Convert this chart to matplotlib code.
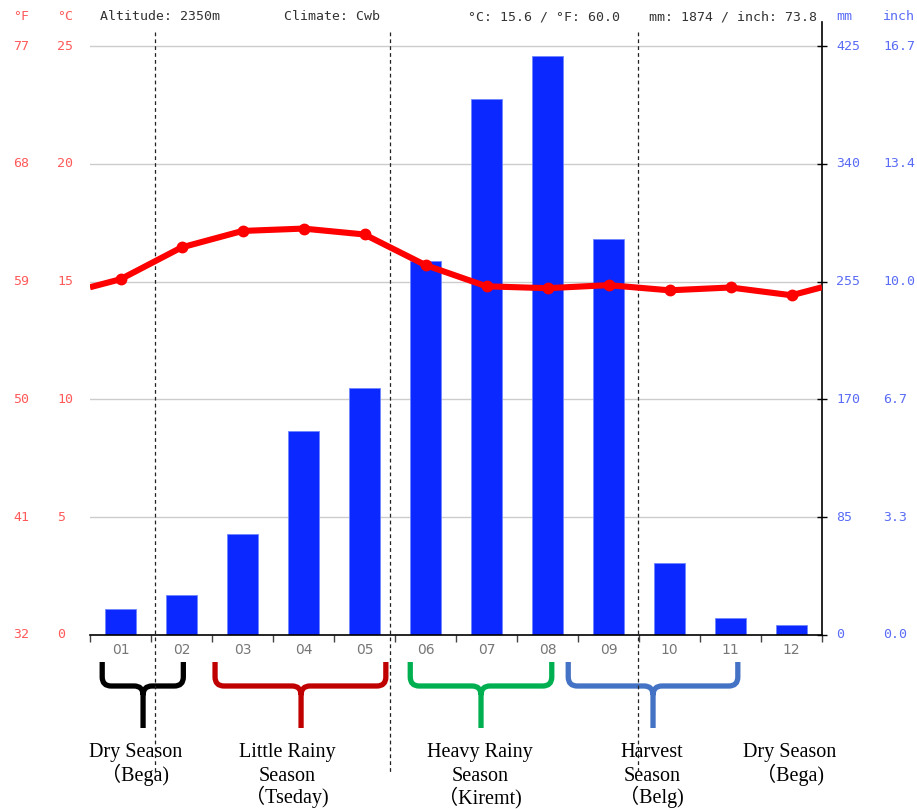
import matplotlib
matplotlib.use('Agg')
import matplotlib.pyplot as plt
import matplotlib.transforms as mtransforms
from matplotlib.path import Path
from matplotlib.patches import PathPatch

# ---------------- data ----------------
months = ['01', '02', '03', '04', '05', '06', '07', '08', '09', '10', '11', '12']
temp_c = [15.1, 16.45, 17.15, 17.25, 17.0, 15.7, 14.8, 14.72, 14.85, 14.63, 14.75, 14.42]
precip_mm = [19, 29, 73, 147, 178, 270, 387, 418, 286, 52, 12, 7]

temp_ticks_c = [0, 5, 10, 15, 20, 25]
temp_ticks_f = ['32', '41', '50', '59', '68', '77']
precip_ticks_mm = [0, 85, 170, 255, 340, 425]
precip_ticks_in = ['0.0', '3.3', '6.7', '10.0', '13.4', '16.7']

header_altitude = 'Altitude: 2350m'
header_climate = 'Climate: Cwb'
header_temp = '°C: 15.6 / °F: 60.0'
header_precip = 'mm: 1874 / inch: 73.8'

season_dividers = [1.566, 5.418, 9.48]
season_braces = [  # (start month pos, end month pos, tip pos, colour)
    (0.70, 2.03, 1.37, '#000000'),
    (2.55, 5.35, 3.96, '#c00000'),
    (5.75, 8.07, 6.91, '#00b050'),
    (8.34, 11.12, 9.73, '#4472c4'),
]
season_labels = [
    (1.24, ['Dry Season', '（Bega)']),
    (3.73, ['Little Rainy', 'Season', '（Tseday)']),
    (6.89, ['Heavy Rainy', 'Season', '（Kiremt)']),
    (9.71, ['Harvest', 'Season', '（Belg)']),
    (11.97, ['Dry Season', '（Bega)']),
]

# ---------------- layout ----------------
W, H = 917, 809
fig = plt.figure(figsize=(W / 100, H / 100), dpi=100)
px_left, px_right, px_bottom, px_top, px_25 = 90, 822, 635, 22, 46
ax = fig.add_axes([px_left / W, 1 - px_bottom / H,
                   (px_right - px_left) / W, (px_bottom - px_top) / H])
ax.set_zorder(1)
axT = ax.twinx()
axT.set_zorder(2)
axT.patch.set_visible(False)

ext = (px_bottom - px_top) / (px_bottom - px_25)
ax.set_ylim(0, 425 * ext)
axT.set_ylim(0, 25 * ext)
ax.set_xlim(0.5, 12.5)
axT.set_xlim(0.5, 12.5)

x = list(range(1, 13))
BLUE_LBL = '#5a6cf5'
RED_LBL = '#ff5a5a'

# grid
for v in precip_ticks_mm[1:]:
    ax.axhline(v, color='#cccccc', lw=1, zorder=0)

ax.bar(x, precip_mm, width=0.5, color='#0a28ff', edgecolor='#6f86ff', linewidth=0.6, zorder=2)

# temperature line (wrapped at the year ends)
edge = (temp_c[0] + temp_c[-1]) / 2
axT.plot([0.5] + x + [12.5], [edge] + temp_c + [edge], color='#ff0000', lw=4.4,
         solid_capstyle='butt', zorder=3)
axT.plot(x, temp_c, 'o', color='#ff0000', ms=7.5, zorder=4)

# spines / ticks
for s in ['left', 'top']:
    ax.spines[s].set_visible(False)
for s in ['left', 'top', 'right', 'bottom']:
    axT.spines[s].set_visible(False)
ax.spines['right'].set_color('black')
ax.spines['bottom'].set_color('black')
ax.spines['right'].set_linewidth(1.2)
ax.spines['bottom'].set_linewidth(1.2)
axT.set_yticks([])
axT.set_xticks([])
ax.yaxis.tick_right()
ax.set_yticks(precip_ticks_mm)
ax.tick_params(axis='y', direction='inout', length=7, width=1, labelright=False, labelleft=False)
ax.set_xticks(x)
ax.set_xticklabels(months, color='#777777', fontsize=10, family='DejaVu Sans')
ax.tick_params(axis='x', length=0, pad=6)
ax.set_xticks([i + 0.5 for i in range(0, 13)], minor=True)
ax.tick_params(axis='x', which='minor', direction='out', length=5, width=1, color='#444444')

# axis value labels
tr_l = mtransforms.blended_transform_factory(fig.transFigure, axT.transData)
tr_r = mtransforms.blended_transform_factory(fig.transFigure, ax.transData)
mono = 'DejaVu Sans Mono'
for c, f in zip(temp_ticks_c, temp_ticks_f):
    axT.text(13 / W, c, f, transform=tr_l, color=RED_LBL, fontsize=9.5, family=mono,
             ha='left', va='center', clip_on=False)
    axT.text(57 / W, c, str(c), transform=tr_l, color=RED_LBL, fontsize=9.5, family=mono,
             ha='left', va='center', clip_on=False)
for mm, inch in zip(precip_ticks_mm, precip_ticks_in):
    ax.text(836 / W, mm, str(mm), transform=tr_r, color=BLUE_LBL, fontsize=9.5, family=mono,
            ha='left', va='center', clip_on=False)
    ax.text(883 / W, mm, inch, transform=tr_r, color=BLUE_LBL, fontsize=9.5, family=mono,
            ha='left', va='center', clip_on=False)

# header
hy = 1 - 17 / H
fig.text(13 / W, hy, '°F', color=RED_LBL, fontsize=9.5, family=mono, va='center')
fig.text(57 / W, hy, '°C', color=RED_LBL, fontsize=9.5, family=mono, va='center')
fig.text(100 / W, hy, header_altitude, color='#333333', fontsize=9.5, family=mono, va='center')
fig.text(284 / W, hy, header_climate, color='#333333', fontsize=9.5, family=mono, va='center')
fig.text(468 / W, hy, header_temp, color='#333333', fontsize=9.5, family=mono, va='center')
fig.text(649 / W, hy, header_precip, color='#333333', fontsize=9.5, family=mono, va='center')
fig.text(836 / W, hy, 'mm', color=BLUE_LBL, fontsize=9.5, family=mono, va='center')
fig.text(883 / W, hy, 'inch', color=BLUE_LBL, fontsize=9.5, family=mono, va='center')

# season dividers
tr_b = mtransforms.blended_transform_factory(ax.transData, fig.transFigure)
for d in season_dividers:
    ax.plot([d, d], [1 - 32 / H, 1 - 773 / H], transform=tr_b, color='#222222',
            lw=0.9, ls=(0, (3, 2.5)), clip_on=False, zorder=5)

# braces
month_px = (px_right - px_left) / 12.0
def brace(x1, x2, xc, color, ytop=662, ymid=686, ytip=728, r=9):
    rx = r / month_px
    yt, ym, yb = 1 - ytop / H, 1 - ymid / H, 1 - ytip / H
    ry = r / H
    verts = [(x1, yt), (x1, ym + ry), (x1, ym), (x1 + rx, ym), (xc - rx, ym),
             (xc, ym), (xc, ym - ry), (xc, yb),
             (x2, yt), (x2, ym + ry), (x2, ym), (x2 - rx, ym), (xc + rx, ym),
             (xc, ym), (xc, ym - ry)]
    codes = [Path.MOVETO, Path.LINETO, Path.CURVE3, Path.CURVE3, Path.LINETO,
             Path.CURVE3, Path.CURVE3, Path.LINETO,
             Path.MOVETO, Path.LINETO, Path.CURVE3, Path.CURVE3, Path.LINETO,
             Path.CURVE3, Path.CURVE3]
    p = PathPatch(Path(verts, codes), transform=tr_b, fill=False, edgecolor=color,
                  lw=3.8, capstyle='butt', joinstyle='round', clip_on=False)
    ax.add_artist(p)

for x1, x2, xc, col in season_braces:
    brace(x1, x2, xc, col)

serif = ['Liberation Serif', 'Noto Sans CJK SC']
baselines = [757, 781, 803]
for xc, lines in season_labels:
    for line, by in zip(lines, baselines):
        ax.text(xc, 1 - by / H, line, transform=tr_b, ha='center', va='baseline',
                fontsize=14.5, family=serif, clip_on=False)

fig.savefig('out.png', dpi=100)
